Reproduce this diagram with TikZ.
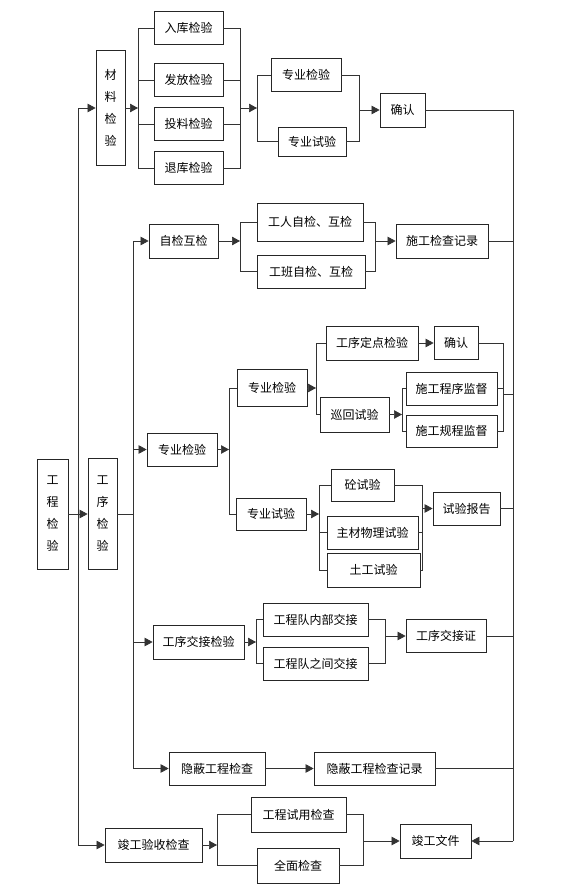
\documentclass[tikz,border=0pt]{standalone}
\usepackage{fontspec}
\setmainfont{Noto Sans CJK SC}
\usetikzlibrary{arrows.meta}

\begin{document}
\begin{tikzpicture}[x=1pt, y=-1pt,
    box/.style={draw=black!85, line width=.8pt, minimum height=33, inner sep=0pt, font=\fontsize{12}{14}\selectfont},
    vbox/.style={box, minimum width=29, align=center, font=\fontsize{12}{22}\selectfont},
    link/.style={draw=black!80, line width=.7pt},
    arr/.style={link, -{Triangle[length=8pt, width=8.5pt]}}]
    \useasboundingbox (0,0) rectangle (560,890);
    % left column
    \node[vbox, minimum width=31, minimum height=110] (gcjy) at (52.5,514) {工\\程\\检\\验};
    \node[vbox, minimum height=115] (cljy) at (110.5,108) {材\\料\\检\\验};
    \node[vbox, minimum height=111] (gxjy) at (102.5,514) {工\\序\\检\\验};
    \coordinate (L0) at (78,514);
    \coordinate (L1) at (133,514);
    \coordinate (R) at (513,841);
    % material checks
    \node[box, minimum width=69] (rkjy) at (188.5,28) {入库检验};
    \node[box, minimum width=69] (ffjy) at (188.5,80) {发放检验};
    \node[box, minimum width=69] (tljy) at (188.5,124) {投料检验};
    \node[box, minimum width=69] (tkjy) at (188.5,168) {退库检验};
    \node[box, minimum width=70] (zyjyA) at (306,75) {专业检验};
    \node[box, minimum width=68, minimum height=29] (zysyA) at (312,141.5) {专业试验};
    \node[box, minimum width=45, minimum height=34] (qrA) at (402.5,110) {确认};
    \coordinate (sA) at (138,108);
    \coordinate (mA) at (240,108);
    \coordinate (sB) at (257,108);
    \coordinate (mB) at (359,110);
    % self checks
    \node[box, minimum width=69, minimum height=34] (zjhj) at (183.5,241) {自检互检};
    \node[box, minimum width=106, minimum height=38] (grzj) at (310,222) {工人自检、互检};
    \node[box, minimum width=108] (gbzj) at (311,271.5) {工班自检、互检};
    \node[box, minimum width=92, minimum height=34] (sgjl) at (442,241) {施工检查记录};
    \coordinate (sC) at (240,241);
    \coordinate (mC) at (375,241);
    % special checks
    \node[box, minimum width=70] (zyjy) at (182,449.5) {专业检验};
    \node[box, minimum width=70, minimum height=37] (zyjyB) at (272,388) {专业检验};
    \node[box, minimum width=92, minimum height=34] (gxdd) at (372,343) {工序定点检验};
    \node[box, minimum width=44] (qrB) at (456,343) {确认};
    \node[box, minimum width=69, minimum height=35] (xhsy) at (354.5,414.5) {巡回试验};
    \node[box, minimum width=91] (sgcx) at (451.5,388.5) {施工程序监督};
    \node[box, minimum width=91, minimum height=32] (sggc) at (451.5,431) {施工规程监督};
    \coordinate (sD) at (229,449.5);
    \coordinate (sE) at (316,388);
    \coordinate (sF) at (402,414.5);
    \coordinate (mF) at (503,394);
    \node[box, minimum width=70, minimum height=32] (zysyB) at (271,514) {专业试验};
    \node[box, minimum width=63, minimum height=32] (tsy) at (362.5,485) {砼试验};
    \node[box, minimum width=91] (zcwl) at (372.5,532.5) {主材物理试验};
    \node[box, minimum width=93, minimum height=34] (tgsy) at (373.5,570) {土工试验};
    \node[box, minimum width=67] (sybg) at (466.5,508.5) {试验报告};
    \coordinate (sG) at (319,514);
    \coordinate (mG) at (422,508.5);
    % handover
    \node[box, minimum width=91, minimum height=34] (gxjj) at (198.5,642) {工序交接检验};
    \node[box, minimum width=105] (nbjj) at (315.5,619.5) {工程队内部交接};
    \node[box, minimum width=105] (zjjj) at (315.5,663.5) {工程队之间交接};
    \node[box, minimum width=80] (gxjjz) at (446,636) {工序交接证};
    \coordinate (sH) at (256,642);
    \coordinate (mH) at (385,636);
    % hidden works
    \node[box, minimum width=96] (ybjc) at (217,768.5) {隐蔽工程检查};
    \node[box, minimum width=121] (ybjl) at (374.5,768.5) {隐蔽工程检查记录};
    % completion
    \node[box, minimum width=97, minimum height=34] (jgys) at (153.5,845) {竣工验收检查};
    \node[box, minimum width=95, minimum height=35] (gcsy) at (298.5,814.5) {工程试用检查};
    \node[box, minimum width=82, minimum height=35] (qmjc) at (298,865.5) {全面检查};
    \node[box, minimum width=71, minimum height=34] (jgwj) at (435.5,841) {竣工文件};
    \coordinate (sI) at (217,845);
    \coordinate (mI) at (363,841);

    % main buses
    \draw[arr] (gcjy) -- (gxjy);
    \draw[arr] (L0) |- (cljy);
    \draw[arr] (L0) |- (jgys);
    \draw[link] (gxjy) -- (L1);
    \foreach \n in {zjhj, zyjy, gxjj, ybjc}
        \draw[arr] (L1) |- (\n);

    \draw[arr] (cljy) -- (sA);
    \foreach \n in {rkjy, ffjy, tljy, tkjy} {
        \draw[link] (\n) -| (sA);
        \draw[link] (\n) -| (mA);
    }
    \draw[arr] (mA) -- (sB);
    \foreach \n in {zyjyA, zysyA} {
        \draw[link] (\n) -| (sB);
        \draw[link] (\n) -| (mB);
    }
    \draw[arr] (mB) -- (qrA);
    \draw[link] (qrA) -| (R);

    \draw[arr] (zjhj) -- (sC);
    \foreach \n in {grzj, gbzj} {
        \draw[link] (\n) -| (sC);
        \draw[link] (\n) -| (mC);
    }
    \draw[arr] (mC) -- (sgjl);
    \draw[link] (sgjl) -| (R);

    \draw[arr] (zyjy) -- (sD);
    \foreach \n in {zyjyB, zysyB}
        \draw[link] (\n) -| (sD);
    \draw[arr] (zyjyB) -- (sE);
    \foreach \n in {gxdd, xhsy}
        \draw[link] (\n) -| (sE);
    \draw[arr] (gxdd) -- (qrB);
    \draw[arr] (xhsy) -- (sF);
    \foreach \n in {sgcx, sggc}
        \draw[link] (\n) -| (sF);
    \foreach \n in {qrB, sgcx, sggc}
        \draw[link] (\n) -| (mF);
    \draw[link] (mF) -- (R |- mF);

    \draw[arr] (zysyB) -- (sG);
    \foreach \n in {tsy, zcwl, tgsy} {
        \draw[link] (\n) -| (sG);
        \draw[link] (\n) -| (mG);
    }
    \draw[arr] (mG) -- (sybg);
    \draw[link] (sybg) -| (R);

    \draw[arr] (gxjj) -- (sH);
    \foreach \n in {nbjj, zjjj} {
        \draw[link] (\n) -| (sH);
        \draw[link] (\n) -| (mH);
    }
    \draw[arr] (mH) -- (gxjjz);
    \draw[link] (gxjjz) -| (R);

    \draw[arr] (ybjc) -- (ybjl);
    \draw[link] (ybjl) -| (R);

    \draw[arr] (jgys) -- (sI);
    \foreach \n in {gcsy, qmjc} {
        \draw[link] (\n) -| (sI);
        \draw[link] (\n) -| (mI);
    }
    \draw[arr] (mI) -- (jgwj);
    \draw[arr] (R) -- (jgwj);
\end{tikzpicture}
\end{document}
